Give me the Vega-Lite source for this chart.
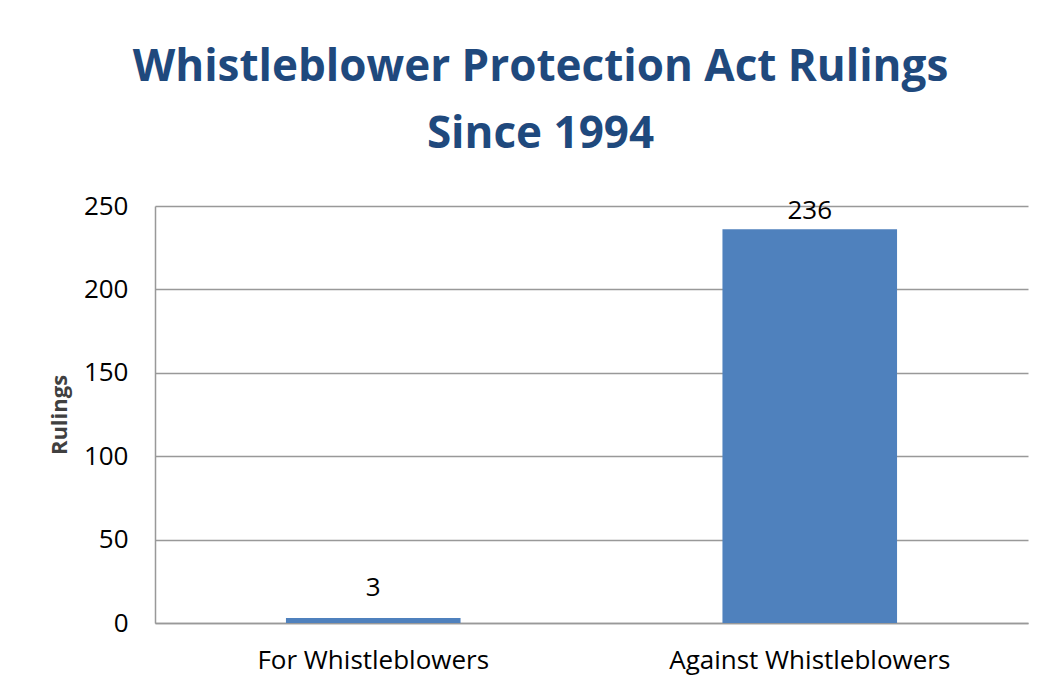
{
  "$schema": "https://vega.github.io/schema/vega-lite/v6.json",
  "width": 873,
  "height": 417,
  "autosize": "none",
  "padding": {"left": 155, "top": 206, "right": 34, "bottom": 75},
  "background": "white",
  "title": {
    "text": ["Whistleblower Protection Act Rulings", "Since 1994"],
    "font": "Open Sans",
    "fontWeight": "bold",
    "fontSize": 44,
    "lineHeight": 67,
    "color": "#1F497D",
    "anchor": "middle",
    "dx": -51,
    "offset": 36
  },
  "data": {
    "values": [
      {"category": "For Whistleblowers", "rulings": 3},
      {"category": "Against Whistleblowers", "rulings": 236}
    ]
  },
  "encoding": {
    "x": {
      "field": "category",
      "type": "nominal",
      "sort": null,
      "scale": {"paddingInner": 0.6, "paddingOuter": 0.3},
      "axis": {
        "title": null,
        "labelAngle": 0,
        "labelFont": "Open Sans",
        "labelFontSize": 26,
        "labelColor": "#000000",
        "labelPadding": 24,
        "labelLimit": 0,
        "ticks": false,
        "domainColor": "#999999",
        "domainWidth": 1.5
      }
    },
    "y": {
      "field": "rulings",
      "type": "quantitative",
      "scale": {"domain": [0, 250]},
      "axis": {
        "title": "Rulings",
        "titleFont": "Open Sans",
        "titleFontSize": 22,
        "titleFontWeight": "bold",
        "titleColor": "#404040",
        "titlePadding": 12,
        "values": [0, 50, 100, 150, 200, 250],
        "labelFont": "Open Sans",
        "labelFontSize": 26,
        "labelColor": "#000000",
        "labelPadding": 27,
        "ticks": false,
        "domainColor": "#999999",
        "domainWidth": 1.5,
        "gridColor": "#999999",
        "gridWidth": 1.5
      }
    }
  },
  "layer": [
    {"mark": {"type": "bar", "color": "#4F81BD"}},
    {
      "transform": [{"filter": "datum.rulings >= 100"}],
      "mark": {"type": "text", "baseline": "bottom", "dy": -5, "font": "Open Sans", "fontSize": 26, "color": "#000000"},
      "encoding": {"text": {"field": "rulings", "type": "quantitative"}}
    },
    {
      "transform": [{"filter": "datum.rulings < 100"}],
      "mark": {"type": "text", "baseline": "bottom", "dy": -17, "font": "Open Sans", "fontSize": 26, "color": "#000000"},
      "encoding": {"text": {"field": "rulings", "type": "quantitative"}}
    }
  ],
  "config": {"view": {"stroke": null}}
}
